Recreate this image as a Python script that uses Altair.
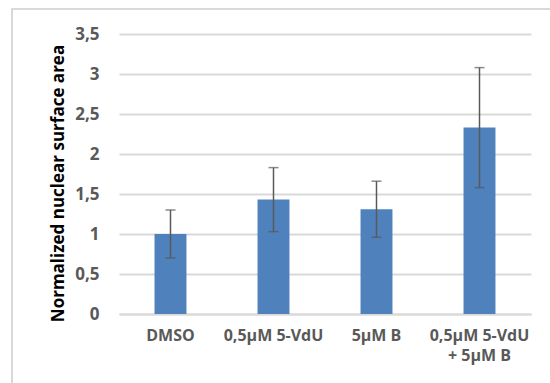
import altair as alt
import pandas as pd

categories = ["DMSO", "0,5µM 5-VdU", "5µM B", "0,5µM 5-VdU\n+ 5µM B"]
means = [1.00, 1.43, 1.31, 2.33]
errors = [0.30, 0.40, 0.35, 0.75]
y_ticks = [0, 0.5, 1, 1.5, 2, 2.5, 3, 3.5]

df = pd.DataFrame({
    "cat": categories,
    "mean": means,
    "lo": [m - e for m, e in zip(means, errors)],
    "hi": [m + e for m, e in zip(means, errors)],
})

FONT = "Open Sans"
GRAY = "#595959"
GRID = "#d9d9d9"
YTITLE = "Normalized nuclear surface area"

yscale = alt.Scale(domain=[0, 3.5], nice=False)
xscale = alt.Scale(paddingInner=0.69, paddingOuter=0.345)

xaxis = alt.Axis(labelAngle=0, labelFont=FONT, labelFontWeight="bold",
                 labelFontSize=16, labelColor=GRAY, labelPadding=13,
                 labelLineHeight=20, ticks=False, domain=True,
                 domainColor=GRID, domainWidth=2, grid=False,
                 labelExpr="split(datum.label, '\\n')")

yaxis = alt.Axis(values=y_ticks, grid=True, gridColor=GRID, gridWidth=2,
                 domain=False, ticks=False, labelFont=FONT,
                 labelFontWeight="bold", labelFontSize=17,
                 labelColor=GRAY, labelPadding=20, labelOverlap=False,
                 labelExpr="replace(toString(datum.value), '.', ',')",
                 titleFont=FONT, titleFontSize=17, titleFontWeight="bold",
                 titleColor="#000000", titleAngle=270,
                 titleX=-61, titleY=149, titleBaseline="middle",
                 titleAlign="center")


def X():
    return alt.X("cat:N", sort=categories, title=None, scale=xscale, axis=xaxis)


def Y(field):
    return alt.Y(field, title=YTITLE, scale=yscale, axis=yaxis)


bars = alt.Chart(df).mark_bar(color="#4f81bd").encode(x=X(), y=Y("mean:Q"))

rule = alt.Chart(df).mark_rule(color=GRAY, strokeWidth=1.5).encode(
    x=X(), y=Y("lo:Q"), y2="hi:Q")
cap_hi = alt.Chart(df).mark_tick(color=GRAY, thickness=1.5, size=10).encode(
    x=X(), y=Y("hi:Q"))
cap_lo = alt.Chart(df).mark_tick(color=GRAY, thickness=1.5, size=10).encode(
    x=X(), y=Y("lo:Q"))

frame = alt.Chart(df).mark_rect(fill=None, stroke=GRID, strokeWidth=2, clip=False).encode(
    x=alt.value(-107), x2=alt.value(460), y=alt.value(-25), y2=alt.value(420))

chart = alt.layer(frame, bars, rule, cap_hi, cap_lo).properties(
    width=412, height=280,
    autosize=alt.AutoSizeParams(type="none"),
    padding={"left": 119, "top": 34, "right": 19, "bottom": 69},
    background="white",
).configure_view(stroke=None)

chart.save("out.html", embed_options={"renderer": "svg", "actions": False})
